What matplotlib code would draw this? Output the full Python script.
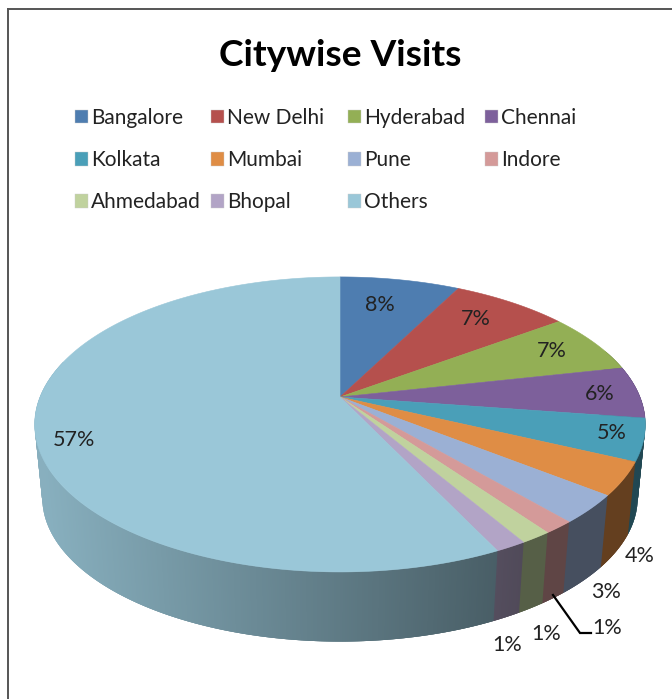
import numpy as np
import matplotlib
matplotlib.use("Agg")
import matplotlib.pyplot as plt
from matplotlib.patches import Polygon, Patch
from matplotlib.colors import to_rgb

# ---- data ----
cities = ["Bangalore", "New Delhi", "Hyderabad", "Chennai", "Kolkata", "Mumbai",
          "Pune", "Indore", "Ahmedabad", "Bhopal", "Others"]
visits = [7.6, 7.4, 6.6, 5.7, 4.6, 3.6, 3.1, 1.4, 1.4, 1.4, 57.2]
colors = ["#4E7DB0", "#B5504D", "#93AF55", "#7D609B", "#4A9FB8", "#DF8D45",
          "#9BB0D4", "#D49A99", "#C0D29E", "#B2A4C6", "#9AC7D8"]
# label anchor (pixel position in the picture)
label_xy = [(380, 305), (476, 319), (552, 351), (600, 394), (612, 433), (640, 556),
            (606, 592), (607, 628), (546, 634), (507, 645), (74, 440)]

plt.rcParams["font.family"] = ["Lato", "DejaVu Sans"]
W, H = 672, 699
fig = plt.figure(figsize=(W / 100, H / 100), dpi=100, facecolor="white")
ax = fig.add_axes([8 / W, 0, 1 - 8 / W, 1 - 9 / H])
ax.set_xlim(8, W)
ax.set_ylim(H, 9)
ax.set_xticks([]); ax.set_yticks([])
for s in ("right", "bottom"):
    ax.spines[s].set_visible(False)
for s in ("left", "top"):
    ax.spines[s].set_color("#555555")
    ax.spines[s].set_linewidth(1.4)

# ---- projected pie ----
CX, CY = 340, 397
B, A, K = 300.0, 142.4, 0.186
SHRINK, DEPTH = 0.975, 74


def top(t):
    u, v = np.sin(t), -np.cos(t)
    d = 1 - K * v
    return B * u / d, A * v / d


def to_px(x, y, bottom=False):
    if bottom:
        return CX + x * SHRINK, CY + y * SHRINK + DEPTH
    return CX + x, CY + y


fractions = np.array(visits) / sum(visits)
edges = np.concatenate([[0], np.cumsum(fractions)]) * 2 * np.pi

# side wall: overlapping shaded strips, painted in order so no seams show
LEFT, RIGHT = np.radians(285), np.radians(70)
for i, c in enumerate(colors):
    base = np.array(to_rgb(c))
    lo, hi = max(edges[i], RIGHT), min(edges[i + 1], LEFT)
    if hi <= lo:
        continue
    ts = np.linspace(lo, hi, max(2, int(np.degrees(hi - lo) * 3)))
    for j, (a, b) in enumerate(zip(ts[:-1], ts[1:])):
        b2 = min(b + 0.012, LEFT)
        xa, ya = top(a); xb, yb = top(b2)
        quad = [to_px(xa, ya), to_px(xb, yb), to_px(xb, yb, True), to_px(xa, ya, True)]
        xm = (xa + xb) / 2
        f = np.clip(0.88 - 0.41 * (xm + 296) / 456, 0.45, 0.88)
        ax.add_patch(Polygon(quad, closed=True, facecolor=base * f, edgecolor="none",
                             zorder=2))

# top face
for i, c in enumerate(colors):
    ts = np.linspace(edges[i], edges[i + 1], max(3, int(np.degrees(edges[i + 1] - edges[i]) * 2)))
    x, y = top(ts)
    pts = np.vstack([[CX, CY], np.column_stack(to_px(x, y))])
    ax.add_patch(Polygon(pts, closed=True, facecolor=c, edgecolor=c, lw=0.4, zorder=3))

# labels
for v, (lx, ly) in zip(visits, label_xy):
    ax.text(lx, ly, f"{round(v)}%", ha="center", va="center", fontsize=15.5,
            color="#222222", zorder=5)
# leader line of the Indore label
ax.plot([553, 580, 591], [595, 633, 633], color="black", lw=1.6, zorder=4,
        solid_joinstyle="miter")

# title
ax.text(340, 55, "Citywise Visits", ha="center", va="center", fontsize=26.7,
        fontweight="bold", color="black")

# legend: four equal-pitch columns
handles = [Patch(facecolor=c, edgecolor="#cccccc", linewidth=0.3) for c in colors]
for col, x0 in enumerate((74.6, 210.7, 347.6, 485)):
    idx = list(range(col, len(cities), 4))
    leg = ax.legend([handles[i] for i in idx], [cities[i] for i in idx],
                    loc="upper left", bbox_to_anchor=(x0, H - 108),
                    bbox_transform=matplotlib.transforms.IdentityTransform(),
                    frameon=False, fontsize=15, handlelength=0.63, handleheight=0.63,
                    handletextpad=0.15, labelspacing=1.06, borderpad=0, borderaxespad=0,
                    labelcolor="#222222")
    if col < 3:
        ax.add_artist(leg)

fig.savefig("out.png", dpi=100, facecolor="white")
